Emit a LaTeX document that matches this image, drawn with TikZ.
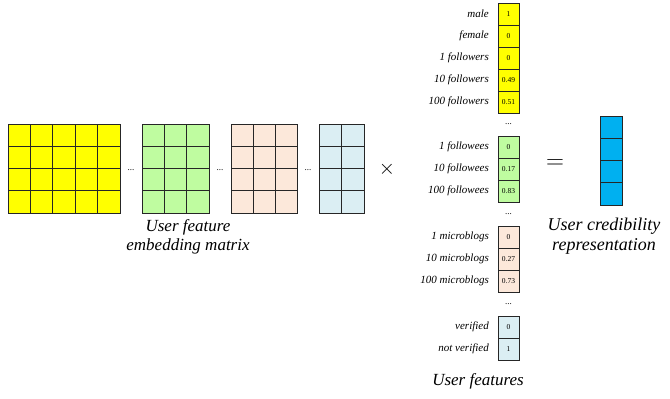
\documentclass[tikz,border=0pt]{standalone}
\usepackage{fontspec}
\setmainfont{Liberation Serif}
\usetikzlibrary{positioning}
\definecolor{featyellow}{RGB}{255,255,0}
\definecolor{featgreen}{RGB}{191,252,160}
\definecolor{featpeach}{RGB}{252,232,218}
\definecolor{featblue}{RGB}{219,238,243}
\definecolor{credblue}{RGB}{0,176,240}
\tikzset{
  cell/.style={draw=black!85, line width=0.8pt},
  flabel/.style={anchor=east, inner sep=0pt, font=\fontsize{11}{12}\selectfont\itshape},
  fvalue/.style={inner sep=0pt, font=\fontsize{7.5}{8}\selectfont},
  caption/.style={align=center, inner sep=0pt, font=\fontsize{17}{19}\selectfont\itshape},
  gapdots/.style={inner sep=0pt, font=\fontsize{9}{9}\selectfont},
}

\begin{document}
\begin{tikzpicture}[x=1pt, y=-1pt]
  \useasboundingbox (0,0) rectangle (670,399);

  % embedding matrix blocks
  \foreach \i in {0,...,4} \foreach \j in {0,...,3}
    \draw[cell, fill=featyellow] ({8+22.4*\i},{124+22.25*\j}) rectangle +(22.4,22.25);
  \foreach \i in {0,...,2} \foreach \j in {0,...,3}
    \draw[cell, fill=featgreen] ({142+22.3*\i},{124+22.25*\j}) rectangle +(22.3,22.25);
  \foreach \i in {0,...,2} \foreach \j in {0,...,3}
    \draw[cell, fill=featpeach] ({231+22.1*\i},{124+22.25*\j}) rectangle +(22.1,22.25);
  \foreach \i in {0,...,1} \foreach \j in {0,...,3}
    \draw[cell, fill=featblue] ({319+22.5*\i},{124+22.25*\j}) rectangle +(22.5,22.25);
  \node[gapdots] (mdots1) at (131,170) {...};
  \node[gapdots] (mdots2) at (220,170) {...};
  \node[gapdots] (mdots3) at (308,170) {...};
  \node[caption] (embcap) at (188,237) {User feature\\embedding matrix};

  \node (times) at (387,169) {\fontsize{22}{22}\selectfont$\times$};

  % user feature vector
  \foreach \lab/\val [count=\k from 0] in {male/1, female/0, 1 followers/0, 10 followers/0.49, 100 followers/0.51} {
    \draw[cell, fill=featyellow] (498,{3+22*\k}) rectangle +(21,22);
    \node[fvalue] (yv\k) at (508.5,{14+22*\k}) {\val};
    \node[flabel] (yl\k) at (489,{14+22*\k}) {\lab};
  }
  \node[gapdots] (vdots1) at (508.5,124) {...};
  \foreach \lab/\val [count=\k from 0] in {1 followees/0, 10 followees/0.17, 100 followees/0.83} {
    \draw[cell, fill=featgreen] (498,{136+22*\k}) rectangle +(21,22);
    \node[fvalue] (gv\k) at (508.5,{147+22*\k}) {\val};
    \node[flabel] (gl\k) at (489,{147+22*\k}) {\lab};
  }
  \node[gapdots] (vdots2) at (508.5,214) {...};
  \foreach \lab/\val [count=\k from 0] in {1 microblogs/0, 10 microblogs/0.27, 100 microblogs/0.73} {
    \draw[cell, fill=featpeach] (498,{226+22*\k}) rectangle +(21,22);
    \node[fvalue] (pv\k) at (508.5,{237+22*\k}) {\val};
    \node[flabel] (pl\k) at (489,{237+22*\k}) {\lab};
  }
  \node[gapdots] (vdots3) at (508.5,304) {...};
  \foreach \lab/\val [count=\k from 0] in {verified/0, not verified/1} {
    \draw[cell, fill=featblue] (498,{316+22*\k}) rectangle +(21,22);
    \node[fvalue] (bv\k) at (508.5,{327+22*\k}) {\val};
    \node[flabel] (bl\k) at (489,{327+22*\k}) {\lab};
  }
  \node[caption] (featcap) at (478,381) {User features};

  \node (equals) at (555,164) {\fontsize{30}{30}\selectfont$=$};

  % credibility representation
  \foreach \j in {0,...,3}
    \draw[cell, fill=credblue] (600,{116+22.25*\j}) rectangle +(22,22.25);
  \node[caption, font=\fontsize{18}{19.5}\selectfont\itshape] (credcap) at (604,236) {User credibility\\representation};
\end{tikzpicture}
\end{document}
